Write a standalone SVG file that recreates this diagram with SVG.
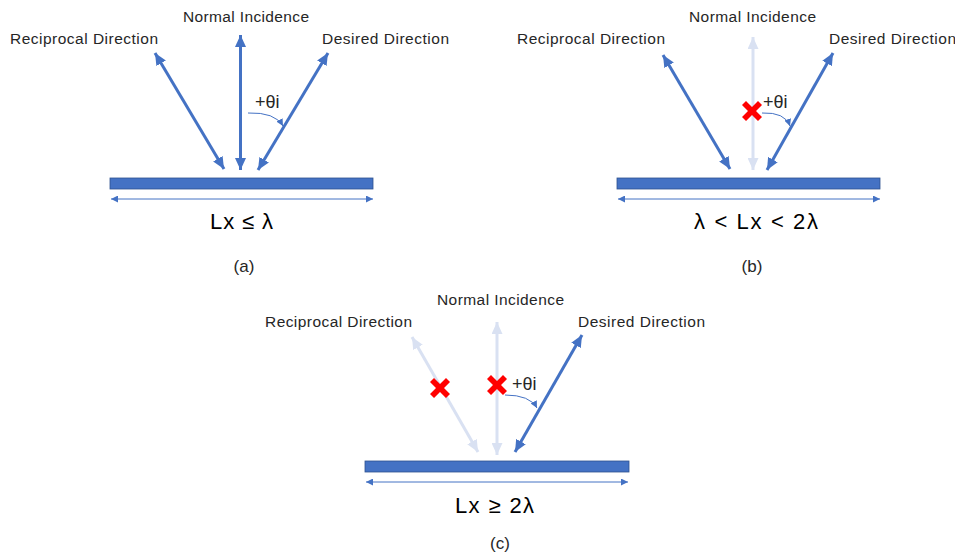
<svg xmlns="http://www.w3.org/2000/svg" width="955" height="555" viewBox="0 0 955 555">
<style>
text{font-family:"Liberation Sans",Arial,sans-serif;fill:#262626}
.lbl{font-size:15.5px}
.th{font-size:18px}
.fm{font-size:22px;fill:#000}
.cap{font-size:17px}
.ar{stroke:#4472C4;stroke-width:3;fill:none;marker-start:url(#hb);marker-end:url(#hb)}
.fa{stroke:#D9E1F2;stroke-width:3;fill:none;marker-start:url(#hf);marker-end:url(#hf)}
.dim{stroke:#4472C4;stroke-width:1;fill:none;marker-start:url(#hs);marker-end:url(#hs)}
.arc{stroke:#4472C4;stroke-width:1;fill:none;marker-end:url(#hs)}
.bar{fill:#4472C4;stroke:#2F528F;stroke-width:0.8}
.x{fill:#FF0000}
</style>
<defs>
<marker id="hb" markerUnits="userSpaceOnUse" markerWidth="13" markerHeight="11" refX="12" refY="5.5" orient="auto-start-reverse"><path d="M0,0 L12,5.5 L0,11 z" fill="#4472C4"/></marker>
<marker id="hf" markerUnits="userSpaceOnUse" markerWidth="13" markerHeight="11" refX="12" refY="5.5" orient="auto-start-reverse"><path d="M0,0 L12,5.5 L0,11 z" fill="#D9E1F2"/></marker>
<marker id="hs" markerUnits="userSpaceOnUse" markerWidth="8" markerHeight="7" refX="7" refY="3.5" orient="auto-start-reverse"><path d="M0,0 L7,3.5 L0,7 z" fill="#4472C4"/></marker>
<path id="xm" d="M-10,-6 L-6,-10 L0,-4 L6,-10 L10,-6 L4,0 L10,6 L6,10 L0,4 L-6,10 L-10,6 L-4,0 Z"/>
</defs>

<g id="connectors">
<!-- panel a -->
<line class="ar" x1="224" y1="169" x2="155" y2="53"/>
<line class="ar" x1="240.5" y1="170" x2="240.5" y2="35"/>
<line class="ar" x1="258" y1="170" x2="328" y2="53"/>
<line class="dim" x1="111" y1="199" x2="373" y2="199"/>
<path class="arc" d="M248,113 Q275,112 283,126"/>
<!-- panel b -->
<line class="fa" x1="753" y1="170" x2="753" y2="37"/>
<line class="ar" x1="730" y1="169" x2="663" y2="55"/>
<line class="ar" x1="767" y1="170" x2="833" y2="53"/>
<line class="dim" x1="618" y1="199" x2="880" y2="199"/>
<path class="arc" d="M762,113 Q785,112 790,126"/>
<!-- panel c -->
<line class="fa" x1="478" y1="452" x2="412" y2="337"/>
<line class="fa" x1="497" y1="455" x2="497" y2="322"/>
<line class="ar" x1="515" y1="452" x2="582" y2="335"/>
<line class="dim" x1="366" y1="482" x2="628" y2="482"/>
<path class="arc" d="M505,395 Q530,395 537,408"/>
</g>

<g id="panel-a">
<rect class="bar" x="110" y="178" width="263" height="11"/>
<text class="lbl" x="183" y="22" textLength="126">Normal Incidence</text>
<text class="lbl" x="10" y="44" textLength="148">Reciprocal Direction</text>
<text class="lbl" x="322" y="44" textLength="127">Desired Direction</text>
<text class="th" x="255" y="108">+θi</text>
<text class="fm" x="210" y="229" textLength="63">Lx ≤ λ</text>
<text class="cap" x="244" y="272" text-anchor="middle">(a)</text>
</g>

<g id="panel-b">
<rect class="bar" x="617" y="178" width="263" height="11"/>
<text class="lbl" x="689" y="22" textLength="127">Normal Incidence</text>
<text class="lbl" x="517" y="44" textLength="148">Reciprocal Direction</text>
<text class="lbl" x="829" y="44" textLength="127">Desired Direction</text>
<text class="th" x="763" y="108">+θi</text>
<use href="#xm" class="x" x="752" y="111"/>
<text class="fm" x="694" y="229" textLength="124">λ &lt;  Lx &lt; 2λ</text>
<text class="cap" x="752" y="272" text-anchor="middle">(b)</text>
</g>

<g id="panel-c">
<rect class="bar" x="365" y="461" width="264" height="11"/>
<text class="lbl" x="437" y="305" textLength="127">Normal Incidence</text>
<text class="lbl" x="265" y="327" textLength="147">Reciprocal Direction</text>
<text class="lbl" x="578" y="327" textLength="127">Desired Direction</text>
<text class="th" x="512" y="390">+θi</text>
<use href="#xm" class="x" x="440" y="388"/>
<use href="#xm" class="x" x="497" y="385"/>
<text class="fm" x="455" y="513" textLength="79">Lx ≥ 2λ</text>
<text class="cap" x="500" y="549" text-anchor="middle">(c)</text>
</g>
</svg>
